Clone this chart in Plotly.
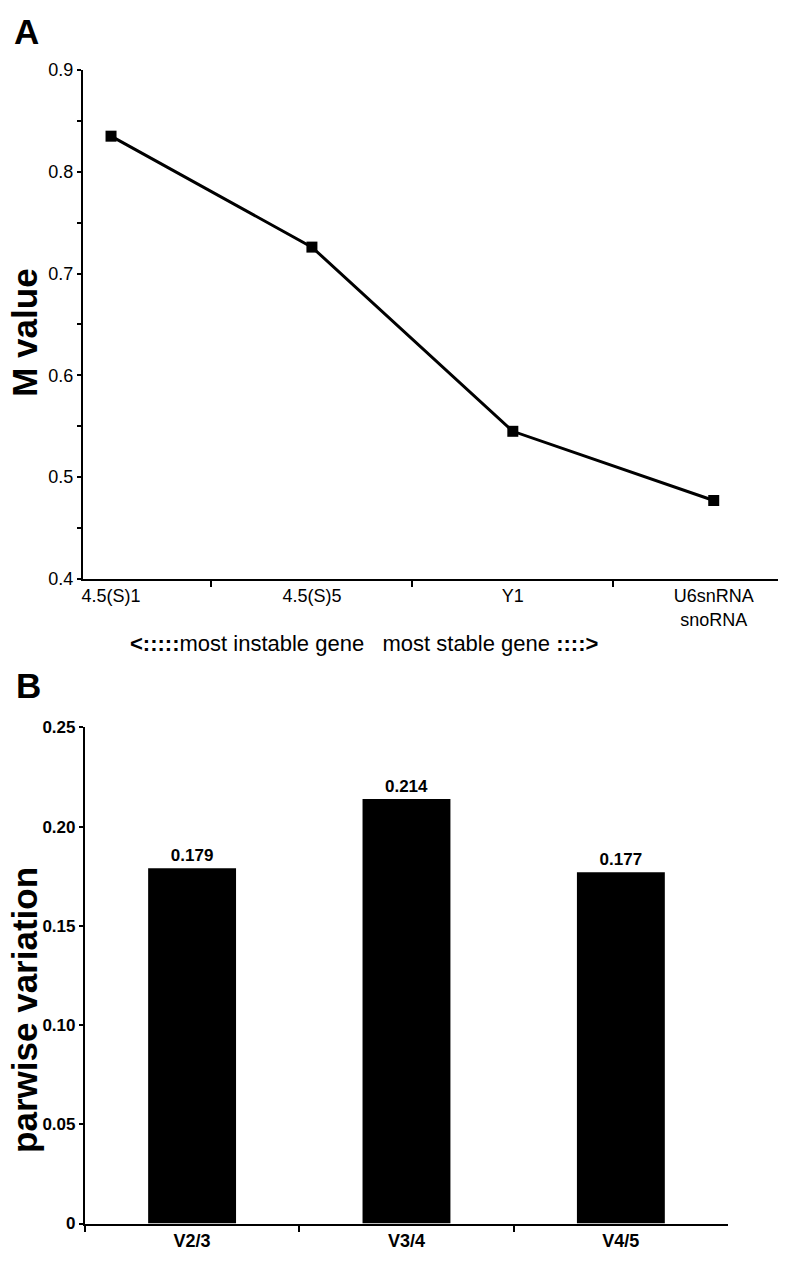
import plotly.graph_objects as go

# Panel A data
genes = ["4.5(S)1", "4.5(S)5", "Y1", "U6snRNA<br>snoRNA"]
m_values = [0.835, 0.726, 0.545, 0.477]

# Panel B data
pairs = ["V2/3", "V3/4", "V4/5"]
pairwise = [0.179, 0.214, 0.177]

W, H = 785, 1265

def px_x(p):
    return p / W

def px_y(p):
    return 1 - p / H

SANS = "Liberation Sans, Arial, sans-serif"

fig = go.Figure()

fig.add_trace(go.Scatter(
    x=genes, y=m_values, mode="lines+markers",
    line=dict(color="black", width=3),
    marker=dict(symbol="square", size=11, color="black"),
    xaxis="x", yaxis="y", showlegend=False, cliponaxis=False,
))

fig.add_trace(go.Bar(
    x=pairs, y=pairwise, width=0.41,
    marker=dict(color="black", line=dict(width=0)),
    text=[f"{v:.3f}" for v in pairwise], textposition="outside",
    textfont=dict(family=SANS, size=17, color="black", weight="bold"),
    xaxis="x2", yaxis="y2", showlegend=False, cliponaxis=False,
))

axis_common = dict(showgrid=False, zeroline=False, showline=True,
                   linecolor="black", linewidth=2, ticks="outside",
                   tickcolor="black", tickwidth=1.5)

fig.update_layout(
    width=W, height=H,
    margin=dict(l=0, r=0, t=0, b=0),
    paper_bgcolor="white", plot_bgcolor="white",
    xaxis=dict(domain=[px_x(82), px_x(778)], anchor="y", type="category",
               range=[-0.14, 3.32], tickson="boundaries", ticklen=6,
               tickfont=dict(family=SANS, size=18, color="black"),
               **axis_common),
    yaxis=dict(domain=[px_y(578), px_y(61)], anchor="x", range=[0.4, 0.9],
               dtick=0.1, tick0=0.4, tickformat=".1f", ticklen=4,
               minor=dict(dtick=0.05, ticks="outside", ticklen=4,
                          tickcolor="black", tickwidth=1.5),
               tickfont=dict(family=SANS, size=18, color="black"),
               **axis_common),
    xaxis2=dict(domain=[px_x(84), px_x(728)], anchor="y2", type="category",
                range=[-0.5, 2.5], tickson="boundaries", ticklen=6,
                tickfont=dict(family=SANS, size=18, color="black", weight="bold"),
                **axis_common),
    yaxis2=dict(domain=[px_y(1233), px_y(729)], anchor="x2", range=[0, 0.25],
                tickvals=[0, 0.05, 0.10, 0.15, 0.20, 0.25],
                ticktext=["0", "0.05", "0.10", "0.15", "0.20", "0.25"],
                ticklen=4,
                tickfont=dict(family=SANS, size=17, color="black", weight="bold"),
                **axis_common),
)

annotations = [
    dict(text="<b>A</b>", x=px_x(11), y=px_y(22), xanchor="left", yanchor="middle",
         font=dict(family=SANS, size=35, color="black")),
    dict(text="<b>B</b>", x=px_x(13), y=px_y(686), xanchor="left", yanchor="middle",
         font=dict(family=SANS, size=35, color="black")),
    dict(text="<b>M value</b>", x=px_x(24), y=px_y(328), textangle=-90,
         xanchor="center", yanchor="middle",
         font=dict(family=SANS, size=35, color="black")),
    dict(text="<b>parwise variation</b>", x=px_x(24), y=px_y(1016), textangle=-90,
         xanchor="center", yanchor="middle",
         font=dict(family=SANS, size=35, color="black")),
    dict(text="<b>&lt;:::::</b>most instable gene   most stable gene <b>::::&gt;</b>",
         x=px_x(363), y=px_y(644), xanchor="center", yanchor="middle",
         font=dict(family=SANS, size=22, color="black")),
]
for a in annotations:
    a.update(xref="paper", yref="paper", showarrow=False)
fig.update_layout(annotations=annotations)

fig.write_html(
    "out.html",
    config={"displayModeBar": False},
    post_script="document.body.style.margin='0';document.body.style.overflow='hidden';",
)
